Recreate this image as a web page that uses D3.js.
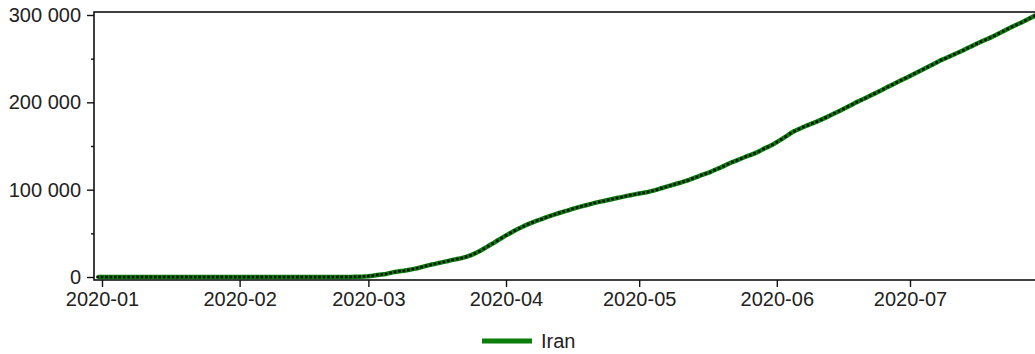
<!DOCTYPE html>
<html>
<head>
<meta charset="utf-8">
<script src="https://cdn.jsdelivr.net/npm/d3@7"></script>
<style>
  html, body { margin: 0; padding: 0; background: #fff; }
  svg { display: block; }
  text { font-family: "Liberation Sans", Arial, sans-serif; fill: #222; }
</style>
</head>
<body>
<svg id="chart" width="1035" height="354"></svg>
<script>
// ---- data ----
const seriesName = "Iran";
const startDate = "2019-12-31";
// daily cumulative confirmed cases, starting at startDate
const cases = [
  // 2019-12-31
  0,
  // January
  0,0,0,0,0,0,0,0,0,0, 0,0,0,0,0,0,0,0,0,0, 0,0,0,0,0,0,0,0,0,0, 0,
  // February 1-18
  0,0,0,0,0,0,0,0,0,0, 0,0,0,0,0,0,0,0,
  // February 19-29
  2,5,18,28,43,61,95,139,245,388,593,
  // March
  978,1501,2336,2922,3513,4747,5823,6566,7161,8042,
  9000,10075,11364,12729,13938,14991,16169,17361,18407,19644,
  20610,21638,23049,24811,27017,29406,32332,35408,38309,41495,44605,
  // April
  47593,50468,53183,55743,58226,60500,62589,64586,66220,68192,
  70029,71686,73303,74877,76389,77995,79494,80868,82211,83505,
  84802,85996,87026,88194,89328,90481,91472,92584,93657,94640,
  // May
  95646,96448,97424,98647,99970,101650,103135,104691,106220,107603,
  109286,110767,112725,114533,116635,118392,120198,122492,124603,126949,
  129341,131652,133521,135701,137724,139511,141591,143849,146668,148950,151466,
  // June
  154445,157562,160696,164270,167156,169425,171789,173832,175927,177938,
  180156,182525,184955,187427,189876,192439,195051,197647,200262,202584,
  204952,207525,209970,212501,215096,217724,220180,222669,225205,227662,
  // July
  230211,232863,235429,237878,240438,243051,245688,248379,250458,252720,
  255117,257303,259652,262173,264561,267061,269440,271606,273788,276202,
  278827,281413,284034,286523,288839,291172,293606,296273,298909,301530
];
const yMajorTicks = [0, 100000, 200000, 300000];
const yMinorTicks = [50000, 150000, 250000];
const xTickDates = ["2020-01-01","2020-02-01","2020-03-01","2020-04-01","2020-05-01","2020-06-01","2020-07-01"];
const xTickLabels = ["2020-01","2020-02","2020-03","2020-04","2020-05","2020-06","2020-07"];

// ---- layout ----
const svg = d3.select("#chart");
const mLeft = 94, mRight = 1045, mTop = 12, mBottom = 280;
const parse = d3.utcParse("%Y-%m-%d");
const t0 = parse(startDate);
const data = cases.map((v, i) => ({ date: d3.utcDay.offset(t0, i), value: v }));

const x = d3.scaleUtc()
  .domain([parse("2020-01-01"), parse("2020-07-01")])
  .range([102, 910]);
x.domain([x.invert(mLeft), x.invert(mRight)]).range([mLeft, mRight]);

const y = d3.scaleLinear().domain([0, 300000]).range([277, 15]);
y.domain([y.invert(mBottom), y.invert(mTop)]).range([mBottom, mTop]);

const fmt = v => d3.format(",")(v).replace(/,/g, " ");

// clip
svg.append("defs").append("clipPath").attr("id", "clip")
  .append("rect").attr("x", mLeft).attr("y", mTop).attr("width", mRight - mLeft).attr("height", mBottom - mTop);

// line
const line = d3.line().x(d => x(d.date)).y(d => y(d.value));
const plot = svg.append("g").attr("clip-path", "url(#clip)");
plot.append("path").datum(data)
  .attr("d", line)
  .attr("fill", "none")
  .attr("stroke", "#0b7d0b")
  .attr("stroke-width", 4.5)
  .attr("stroke-linejoin", "round");
plot.selectAll("rect.m").data(data).enter().append("rect")
  .attr("class", "m")
  .attr("x", d => x(d.date) - 1.3)
  .attr("y", d => y(d.value) - 1.3)
  .attr("width", 2.6).attr("height", 2.6)
  .attr("fill", "#061206");

// frame
svg.append("rect")
  .attr("x", mLeft).attr("y", mTop)
  .attr("width", mRight - mLeft).attr("height", mBottom - mTop)
  .attr("fill", "none").attr("stroke", "#111").attr("stroke-width", 1.6);

// y axis
const yAxis = d3.axisLeft(y).tickValues(yMajorTicks).tickFormat(fmt).tickSize(7).tickPadding(6);
const gy = svg.append("g").attr("transform", `translate(${mLeft},0)`).call(yAxis);
gy.select(".domain").remove();
gy.selectAll("text").style("font-size", "20px").attr("fill", "#222")
  .style("font-family", '"Liberation Sans", Arial, sans-serif');
gy.selectAll("line").attr("stroke", "#111").attr("stroke-width", 1.4);
const yMinor = d3.axisLeft(y).tickValues(yMinorTicks).tickFormat("").tickSize(3);
const gym = svg.append("g").attr("transform", `translate(${mLeft},0)`).call(yMinor);
gym.select(".domain").remove();
gym.selectAll("line").attr("stroke", "#111").attr("stroke-width", 1.4);

// x axis
const xAxis = d3.axisBottom(x)
  .tickValues(xTickDates.map(parse))
  .tickFormat((d, i) => xTickLabels[i])
  .tickSize(7).tickPadding(5);
const gx = svg.append("g").attr("transform", `translate(0,${mBottom})`).call(xAxis);
gx.select(".domain").remove();
gx.selectAll("text").style("font-size", "20px").attr("fill", "#222")
  .style("font-family", '"Liberation Sans", Arial, sans-serif');
gx.selectAll("line").attr("stroke", "#111").attr("stroke-width", 1.4);

// legend
const lg = svg.append("g");
lg.append("line").attr("x1", 482).attr("x2", 532).attr("y1", 341).attr("y2", 341)
  .attr("stroke", "#0b7d0b").attr("stroke-width", 5);
lg.append("text").attr("x", 541).attr("y", 348).style("font-size", "20px").text(seriesName);
</script>
</body>
</html>
